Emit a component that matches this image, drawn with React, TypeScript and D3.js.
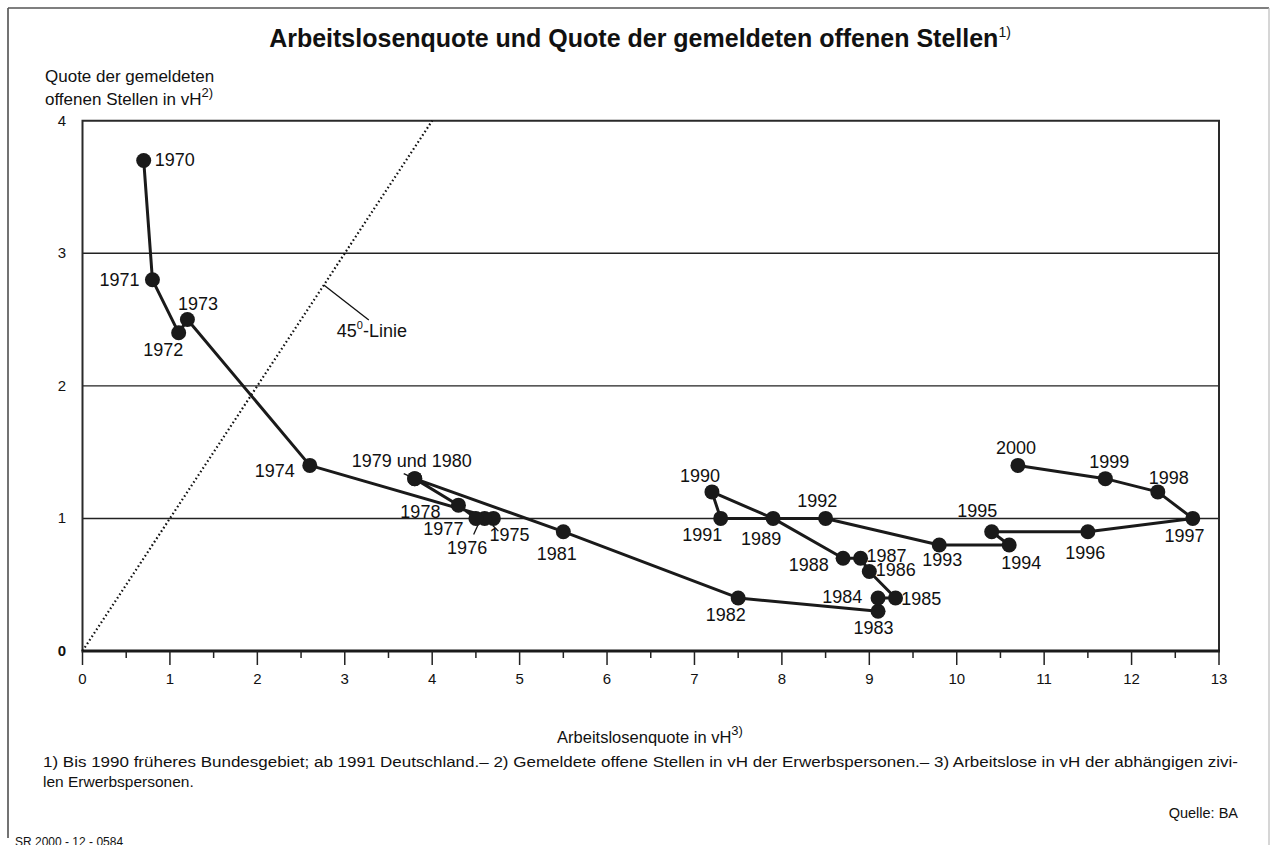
import React from "react";
import * as d3 from "d3";

// ---- data ----
const years = [1970, 1971, 1972, 1973, 1974, 1975, 1976, 1977, 1978, 1979, 1980, 1981, 1982, 1983, 1984, 1985, 1986, 1987, 1988, 1989, 1990, 1991, 1992, 1993, 1994, 1995, 1996, 1997, 1998, 1999, 2000];
const unemploymentRate = [0.7, 0.8, 1.1, 1.2, 2.6, 4.7, 4.6, 4.5, 4.3, 3.8, 3.8, 5.5, 7.5, 9.1, 9.1, 9.3, 9.0, 8.9, 8.7, 7.9, 7.2, 7.3, 8.5, 9.8, 10.6, 10.4, 11.5, 12.7, 12.3, 11.7, 10.7];
const vacancyRate = [3.7, 2.8, 2.4, 2.5, 1.4, 1.0, 1.0, 1.0, 1.1, 1.3, 1.3, 0.9, 0.4, 0.3, 0.4, 0.4, 0.6, 0.7, 0.7, 1.0, 1.2, 1.0, 1.0, 0.8, 0.8, 0.9, 0.9, 1.0, 1.2, 1.3, 1.4];
const pointLabels = years.map((y) => (y === 1979 ? "1979 und 1980" : y === 1980 ? "" : String(y)));
const xTickValues = [0, 1, 2, 3, 4, 5, 6, 7, 8, 9, 10, 11, 12, 13];
const xMinorTicks = [0.5, 1.5, 2.5, 3.5, 4.5, 5.5, 6.5, 7.5, 8.5, 9.5, 10.5, 11.5, 12.5];
const yTickValues = [0, 1, 2, 3, 4];
const gridValues = [1, 2, 3];

const titleText = "Arbeitslosenquote und Quote der gemeldeten offenen Stellen";
const footnote1 = "1) Bis 1990 früheres Bundesgebiet; ab 1991 Deutschland.– 2) Gemeldete offene Stellen in vH der Erwerbspersonen.– 3) Arbeitslose in vH der abhängigen zivi-";
const footnote2 = "len Erwerbspersonen.";

// ---- label layout (pixel offsets from each point) ----
type Anchor = "start" | "middle" | "end";
const labelLayout: Record<number, [number, number, Anchor]> = {
  1970: [11, 6, "start"],
  1971: [-13, 6, "end"],
  1972: [-15.5, 23, "middle"],
  1973: [10.5, -10, "middle"],
  1974: [-15, 12, "end"],
  1975: [-4, 22.7, "start"],
  1976: [-17.5, 36, "middle"],
  1977: [-12.5, 17, "end"],
  1978: [-18, 12.7, "end"],
  1979: [-3, -12, "middle"],
  1981: [-6.6, 28, "middle"],
  1982: [-12.4, 23.3, "middle"],
  1983: [-4.5, 23, "middle"],
  1984: [-15.7, 5, "end"],
  1985: [5.7, 6.7, "start"],
  1986: [6.5, 4.3, "start"],
  1987: [6, 4, "start"],
  1988: [-14.3, 12.6, "end"],
  1989: [-12, 26.6, "middle"],
  1990: [-12, -10, "middle"],
  1991: [-18.4, 22.3, "middle"],
  1992: [-8.4, -11, "middle"],
  1993: [3, 21, "middle"],
  1994: [12, 23.7, "middle"],
  1995: [-14.5, -15, "middle"],
  1996: [-2.5, 27, "middle"],
  1997: [-8.3, 23.4, "middle"],
  1998: [11, -7.7, "middle"],
  1999: [4, -11, "middle"],
  2000: [-2, -11.7, "middle"],
};
const leaders: Record<number, [number, number, number, number]> = {
  1976: [-11, 16, -6, 5],
  1975: [-0.6, 7, 5, 12.7],
  1979: [-11, -5, -6, -2.7],
};

const FONT = "'Liberation Sans', Arial, Helvetica, sans-serif";
const W = 1270;
const H = 845;
const plot = { left: 82.5, right: 1219, top: 120.7, bottom: 651 };

export default function App() {
  const x = d3.scaleLinear().domain([0, 13]).range([plot.left, plot.right]);
  const y = d3.scaleLinear().domain([0, 4]).range([plot.bottom, plot.top]);
  const pts = years.map((yr, i) => ({ yr, label: pointLabels[i], px: x(unemploymentRate[i]), py: y(vacancyRate[i]) }));
  const line = d3
    .line<{ px: number; py: number }>()
    .x((d) => d.px)
    .y((d) => d.py);
  const diagEnd = 4; // 45° line up to top of plot
  const leaderBase = { px: x(2.76), py: y(2.76) };

  return (
    <div style={{ position: "absolute", left: 0, top: 0 }}>
      <svg width={W} height={H} style={{ display: "block", fontFamily: FONT }}>
        <rect x={0} y={0} width={W} height={H} fill="#fff" />
        {/* outer frame */}
        <line x1={8} y1={838} x2={8} y2={8} stroke="#444" strokeWidth={1.5} />
        <line x1={8} y1={8} x2={1269} y2={8} stroke="#555" strokeWidth={1.5} />
        <line x1={1269} y1={8} x2={1269} y2={845} stroke="#bbb" strokeWidth={1.2} />

        {/* title */}
        <text x={640} y={47} textAnchor="middle" fontSize={25} fontWeight="bold" fill="#111">
          {titleText}
          <tspan fontSize={14} fontWeight="normal" dy={-10}>1)</tspan>
        </text>

        {/* y axis title */}
        <text x={45} y={82} fontSize={17} fill="#111">Quote der gemeldeten</text>
        <text x={45} y={105} fontSize={17} fill="#111">
          offenen Stellen in vH
          <tspan fontSize={13} dy={-8}>2)</tspan>
        </text>

        {/* gridlines */}
        {gridValues.map((v) => (
          <line key={v} x1={plot.left} x2={plot.right} y1={y(v)} y2={y(v)} stroke="#222" strokeWidth={1.4} />
        ))}

        {/* plot frame */}
        <path
          d={`M${plot.left},${plot.bottom} V${plot.top} H${plot.right} V${plot.bottom}`}
          fill="none"
          stroke="#2a2a2a"
          strokeWidth={2}
        />

        {/* y tick labels */}
        {yTickValues.map((v) => (
          <text
            key={v}
            x={66}
            y={y(v) + 5}
            textAnchor="end"
            fontSize={15}
            fontWeight={v === 0 ? "bold" : "normal"}
            fill="#111"
          >
            {v}
          </text>
        ))}

        {/* x axis */}
        <line x1={plot.left - 1} x2={plot.right + 1} y1={plot.bottom} y2={plot.bottom} stroke="#1a1a1a" strokeWidth={3} />
        {xTickValues.map((v) => (
          <g key={v}>
            <line x1={x(v)} x2={x(v)} y1={plot.bottom} y2={plot.bottom + 14} stroke="#222" strokeWidth={1.5} />
            <text x={x(v)} y={plot.bottom + 33} textAnchor="middle" fontSize={15} fill="#111">
              {v}
            </text>
          </g>
        ))}
        {xMinorTicks.map((v) => (
          <line key={v} x1={x(v)} x2={x(v)} y1={plot.bottom} y2={plot.bottom + 7} stroke="#222" strokeWidth={1.5} />
        ))}
        <text x={650} y={743} textAnchor="middle" fontSize={16.5} fill="#111">
          Arbeitslosenquote in vH
          <tspan fontSize={13} dy={-8}>3)</tspan>
        </text>

        {/* 45 degree line */}
        <line
          x1={x(0)}
          y1={y(0)}
          x2={x(diagEnd)}
          y2={y(diagEnd)}
          stroke="#111"
          strokeWidth={2.2}
          strokeDasharray="1.6 2.6"
        />
        <line
          x1={leaderBase.px}
          y1={leaderBase.py}
          x2={leaderBase.px + 45}
          y2={leaderBase.py + 35}
          stroke="#111"
          strokeWidth={1.3}
        />
        <text x={leaderBase.px + 13} y={leaderBase.py + 52} fontSize={18} fill="#111">
          45<tspan fontSize={11} dy={-8}>0</tspan>
          <tspan dy={8}>-Linie</tspan>
        </text>

        {/* labels */}
        {pts.map((p) => {
          const lay = labelLayout[p.yr];
          if (!lay || !p.label) return null;
          return (
            <text key={p.yr} x={p.px + lay[0]} y={p.py + lay[1]} textAnchor={lay[2]} fontSize={18} fill="#111">
              {p.label}
            </text>
          );
        })}
        {pts.map((p) => {
          const l = leaders[p.yr];
          if (!l) return null;
          return (
            <line
              key={"l" + p.yr}
              x1={p.px + l[0]}
              y1={p.py + l[1]}
              x2={p.px + l[2]}
              y2={p.py + l[3]}
              stroke="#111"
              strokeWidth={1.3}
            />
          );
        })}

        {/* connecting path */}
        <path d={line(pts) || ""} fill="none" stroke="#1a1a1a" strokeWidth={3} strokeLinejoin="round" />
        {pts.map((p) => (
          <circle key={"c" + p.yr} cx={p.px} cy={p.py} r={7.5} fill="#1a1a1a" />
        ))}

        {/* footnotes */}
        <text x={43} y={767} fontSize={15.5} fill="#111" textLength={1195} lengthAdjust="spacingAndGlyphs">{footnote1}</text>
        <text x={43} y={787} fontSize={15.5} fill="#111">{footnote2}</text>
        <text x={1238} y={818} textAnchor="end" fontSize={14.5} fill="#111">Quelle: BA</text>
        <text x={15} y={846} fontSize={12} fill="#111">SR 2000 - 12 - 0584</text>
      </svg>
    </div>
  );
}
